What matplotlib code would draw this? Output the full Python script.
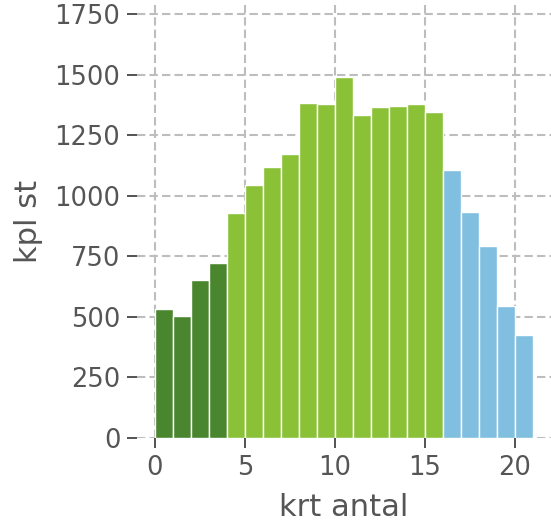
import numpy as np
import matplotlib
matplotlib.use("Agg")
import matplotlib.pyplot as plt

# kort antal per kund -> antal kunder
krt_antal = np.arange(0, 21)
kpl_st = [533, 503, 653, 722, 928, 1043, 1119, 1171, 1383, 1381,
          1489, 1333, 1367, 1370, 1379, 1346, 1107, 934, 792, 544, 424]
grupp = ["low"] * 4 + ["mid"] * 12 + ["high"] * 5
farger = {"low": "#4a862e", "mid": "#8ac136", "high": "#80bfe0"}

textcolor = "#555555"
plt.rcParams["font.family"] = "DejaVu Sans"

fig = plt.figure(figsize=(5.51, 5.23), dpi=100)
W, H = 551, 523
ax = fig.add_axes([137 / W, (H - 438) / H, (551 - 137) / W, (438 - 5) / H])

ax.bar(krt_antal, kpl_st, width=1.0, align="edge",
       color=[farger[g] for g in grupp], edgecolor="white", linewidth=1.0,
       zorder=2)

ax.set_xlim(-1, 22)
ax.set_ylim(0, 1788)
ax.set_xticks([0, 5, 10, 15, 20])
ax.set_yticks(np.arange(0, 1751, 250))

ax.grid(True, linestyle=(0, (4, 2)), color="#bdbdbd", linewidth=1.5, zorder=0)
ax.set_axisbelow(True)
for s in ax.spines.values():
    s.set_visible(False)

ax.tick_params(axis="both", length=7, width=1.3, color="#444444",
               labelcolor=textcolor, labelsize=18.5, pad=5)
ax.set_xlabel("krt antal", fontsize=22, color=textcolor, labelpad=9)
ax.set_ylabel("kpl st", fontsize=22, color=textcolor, labelpad=8)

fig.savefig("out.png", dpi=100)
